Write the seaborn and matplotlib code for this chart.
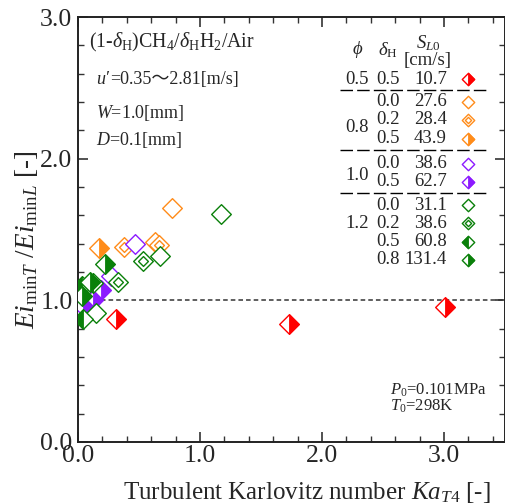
import numpy as np
import pandas as pd
import matplotlib
matplotlib.use("Agg")
import matplotlib.pyplot as plt
from matplotlib.path import Path
import seaborn as sns

# ---------------- data ----------------
red_x = [0.31, 1.73, 3.01]
red_y = [0.87, 0.83, 0.95]
org0_x = [0.77, 0.63]
org0_y = [1.65, 1.41]
org2_x = [0.38, 0.66]
org2_y = [1.38, 1.39]
org5_x = [0.17]
org5_y = [1.37]
pur0_x = [0.47, 0.27, 0.00]
pur0_y = [1.40, 1.17, 0.96]
pur5_x = [0.19, 0.12, 0.04]
pur5_y = [1.07, 1.00, 0.96]
grn0_x = [1.17, 0.67, 0.15]
grn0_y = [1.61, 1.31, 0.91]
grn2_x = [0.53, 0.33]
grn2_y = [1.28, 1.13]
grn5_x = [0.03, 0.04, 0.12]
grn5_y = [1.10, 0.87, 1.12]
grn8_x = [0.22, 0.03, 0.10]
grn8_y = [1.26, 1.03, 1.13]

phi_labels = ["0.5", "0.8", "1.0", "1.2"]
dH_labels = ["0.5", "0.0", "0.2", "0.5", "0.0", "0.5", "0.0", "0.2", "0.5", "0.8"]
SL_labels = ["10.7", "27.6", "28.4", "43.9", "38.6", "62.7", "31.1", "38.6", "60.8", "131.4"]

RED = "#ff0000"
ORG = "#ff8c1a"
PUR = "#8c1aff"
GRN = "#0a800a"

# ---------------- marker paths ----------------
diamond = Path([(0, 1), (1, 0), (0, -1), (-1, 0), (0, 1)],
               [Path.MOVETO, Path.LINETO, Path.LINETO, Path.LINETO, Path.CLOSEPOLY])
right_half = Path([(0, 1), (1, 0), (0, -1), (0, 1)],
                  [Path.MOVETO, Path.LINETO, Path.LINETO, Path.CLOSEPOLY])
left_half = Path([(0, 1), (-1, 0), (0, -1), (0, 1)],
                 [Path.MOVETO, Path.LINETO, Path.LINETO, Path.CLOSEPOLY])
k = 0.5
double = Path([(0, 1), (1, 0), (0, -1), (-1, 0), (0, 1),
               (0, k), (k, 0), (0, -k), (-k, 0), (0, k)],
              [Path.MOVETO, Path.LINETO, Path.LINETO, Path.LINETO, Path.CLOSEPOLY,
               Path.MOVETO, Path.LINETO, Path.LINETO, Path.LINETO, Path.CLOSEPOLY])

series = [
    (red_x, red_y, RED, "right"),
    (org0_x, org0_y, ORG, "open"),
    (org2_x, org2_y, ORG, "double"),
    (org5_x, org5_y, ORG, "right"),
    (pur0_x, pur0_y, PUR, "open"),
    (pur5_x, pur5_y, PUR, "right"),
    (grn0_x, grn0_y, GRN, "open"),
    (grn2_x, grn2_y, GRN, "double"),
    (grn5_x, grn5_y, GRN, "left"),
    (grn8_x, grn8_y, GRN, "right"),
]

# ---------------- style ----------------
sns.set_theme(style="ticks")
plt.rcParams["font.family"] = ["Liberation Serif", "DejaVu Serif", "Noto Sans CJK JP"]
plt.rcParams["mathtext.fontset"] = "custom"
plt.rcParams["mathtext.rm"] = "Liberation Serif"
plt.rcParams["mathtext.it"] = "Liberation Serif:italic"
plt.rcParams["mathtext.bf"] = "Liberation Serif:bold"

fig = plt.figure(figsize=(5.06, 5.04), dpi=100)
ax = fig.add_axes([78 / 506, 1 - 442 / 504, 427 / 506, 425 / 504])

S = 200
LW = 1.0


def draw(ax, x, y, col, kind, s=S, lw=LW, **extra):
    df = pd.DataFrame({"x": x, "y": y})
    if kind == "double":
        sns.scatterplot(data=df, x="x", y="y", marker=double, s=s, color=col,
                        facecolor="white", edgecolor=col, linewidth=lw, ax=ax,
                        legend=False, zorder=3, **extra)
        return
    sns.scatterplot(data=df, x="x", y="y", marker=diamond, s=s, color=col,
                    facecolor="white", edgecolor=col, linewidth=lw, ax=ax,
                    legend=False, zorder=3, **extra)
    if kind in ("left", "right"):
        p = left_half if kind == "left" else right_half
        sns.scatterplot(data=df, x="x", y="y", marker=p, s=s, color=col,
                        facecolor=col, edgecolor=col, linewidth=lw * 0.6, ax=ax,
                        legend=False, zorder=3, **extra)


ax.axhline(1.0, color="#333333", lw=1.1, ls=(0, (3, 2)), zorder=2)

for x, y, col, kind in series:
    draw(ax, x, y, col, kind)

ax.set_xlim(0, 3.5)
ax.set_ylim(0, 3.0)
ax.set_xticks([0, 1, 2, 3])
ax.set_yticks([0, 1, 2, 3])
ax.set_xticks(np.arange(0, 3.51, 0.2), minor=True)
ax.set_yticks(np.arange(0, 3.01, 0.2), minor=True)
ax.set_xticklabels(["0.0", "1.0", "2.0", "3.0"])
ax.set_yticklabels(["0.0", "1.0", "2.0", "3.0"])
ax.tick_params(which="both", direction="in", top=True, right=True, color="#333333")
ax.tick_params(which="major", length=7, width=1.2, labelsize=18.5, pad=2)
ax.tick_params(which="minor", length=4, width=1.0)
ax.tick_params(axis="y", which="major", pad=4)
for sp in ax.spines.values():
    sp.set_linewidth(1.4)
    sp.set_color("#222222")
    sp.set_visible(True)

ax.set_xlabel(r"Turbulent Karlovitz number $Ka_{T\mathrm{4}}$ [-]", fontsize=18, labelpad=0)
ax.set_ylabel(r"$Ei_{\mathrm{min}T}$ /$Ei_{\mathrm{min}L}$ [-]", fontsize=19.5, labelpad=2)
ax.xaxis.set_label_coords(0.535, -0.09)
ax.yaxis.set_label_coords(-0.088, 0.475)

# ---------------- annotations ----------------
def fx(px):
    return (px - 78) / 427


def fy(py):
    return (442 - py) / 425


T = ax.transAxes
ax.text(fx(89), fy(42), r"(1-$\delta_{\mathrm{H}}$)CH$_4$/$\delta_{\mathrm{H}}$H$_2$/Air",
        transform=T, fontsize=14.3, ha="left", va="center")
u_txt = ax.text(fx(96), fy(84), "u′", transform=T, fontsize=13, fontstyle="italic",
                ha="left", va="baseline")
ax.annotate("=0.35〜2.81[m/s]", xy=(1.0, 0.0), xycoords=u_txt, xytext=(1, 0),
            textcoords="offset points", fontsize=13, ha="left", va="bottom",
            family=["Liberation Serif", "Noto Sans CJK JP"])
ax.text(fx(96), fy(113), r"$W$=1.0[mm]", transform=T, fontsize=13, ha="left", va="center")
ax.text(fx(96), fy(140), r"$D$=0.1[mm]", transform=T, fontsize=13, ha="left", va="center")

ax.text(fx(390), fy(390), r"$P_0$=0.101MPa", transform=T, fontsize=12, ha="left", va="center")
ax.text(fx(390), fy(406), r"$T_0$=298K", transform=T, fontsize=12, ha="left", va="center")

# table
FS = 13.5
ax.text(fx(358), fy(50), r"$\phi$", transform=T, fontsize=FS, ha="center", va="center")
ax.text(fx(388), fy(50), r"$\delta_{\mathrm{H}}$", transform=T, fontsize=FS, ha="center", va="center")
ax.text(fx(428), fy(43), r"$S_{L0}$", transform=T, fontsize=FS, ha="center", va="center")
ax.text(fx(428), fy(61), "[cm/s]", transform=T, fontsize=FS, ha="center", va="center")

row_y = [79, 101.5, 120, 138.5, 163.5, 182, 205, 223.5, 242, 260]
phi_y = [79, 128, 176, 223.5]
for lab, yy in zip(phi_labels, phi_y):
    ax.text(fx(357), fy(yy), lab, transform=T, fontsize=FS, ha="center", va="center")
for lab, yy in zip(dH_labels, row_y):
    ax.text(fx(388), fy(yy), lab, transform=T, fontsize=FS, ha="center", va="center")
for lab, yy in zip(SL_labels, row_y):
    ax.text(fx(447), fy(yy), lab, transform=T, fontsize=FS, ha="right", va="center")

for yy in [90, 150, 193]:
    ax.plot([fx(340), fx(490)], [fy(yy), fy(yy)], transform=T, color="black",
            lw=1.0, ls=(0, (9, 3)), clip_on=False)

leg_kinds = [(RED, "right"), (ORG, "open"), (ORG, "double"), (ORG, "right"),
             (PUR, "open"), (PUR, "right"), (GRN, "open"), (GRN, "double"),
             (GRN, "left"), (GRN, "right")]
for (col, kind), yy in zip(leg_kinds, row_y):
    draw(ax, [fx(468)], [fy(yy)], col, kind, s=80, lw=1.0, transform=T)

fig.savefig("out.png", dpi=100)
